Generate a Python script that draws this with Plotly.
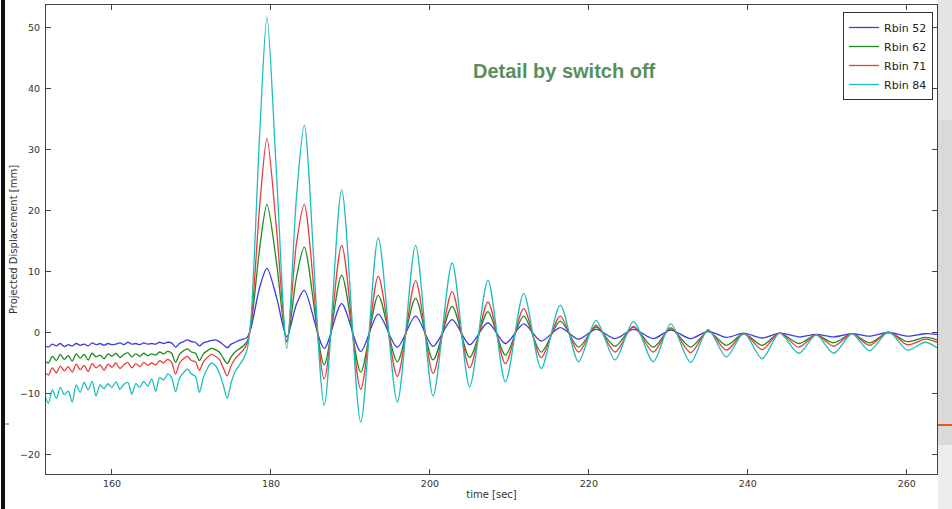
import plotly.graph_objects as go

# ---- data ----
t_base = [151.5 + 0.5 * i for i in range(51)]  # 151.5 .. 176.5 (sample times)
t_osc = [177.0, 177.5, 178.6, 179.5, 180.7, 182.0, 183.2, 184.2, 186.7, 188.9,
         191.3, 193.5, 195.9, 198.2, 200.4, 202.8, 205.0, 207.3, 209.5, 211.8,
         214.0, 216.4, 218.7, 220.9, 223.3, 225.6, 228.1, 230.3, 232.8, 235.0,
         237.3, 239.5, 241.8, 244.0, 246.4, 248.6, 250.8, 253.1, 255.3, 257.7,
         260.1, 262.3, 263.8]
time = t_base + t_osc

rbin52 = [-2.1, -2.4, -1.9, -2.2, -1.8, -2.3, -2.0, -2.2, -1.8, -2.1,
          -1.9, -2.2, -1.7, -2.0, -1.8, -2.1, -1.8, -2.0, -1.9, -1.7,
          -2.0, -1.6, -1.9, -1.8, -2.0, -1.7, -1.9, -1.8, -1.9, -1.6,
          -1.8, -1.6, -1.7, -2.4, -1.8, -1.5, -1.2, -1.5, -1.6, -2.2,
          -1.7, -1.5, -1.3, -1.2, -1.5, -2.0, -2.5, -1.9, -1.6, -1.3,
          -1.1,
          -0.8, 0.8, 7.5, 10.5, 5.8, -0.7, 4.6, 6.9, -2.6, 4.75,
          -3.1, 3.0, -2.4, 2.7, -2.25, 2.1, -2.0, 1.6, -1.8, 1.4,
          -1.4, 0.8, -1.1, 0.5, -1.0, 0.5, -1.0, 0.4, -1.0, 0.2,
          -0.8, -0.1, -0.9, -0.1, -0.7, -0.3, -0.7, -0.2, -0.6, 0.0,
          -0.6, -0.2, -0.3]

rbin62 = [-4.6, -5.0, -3.9, -4.6, -3.6, -4.4, -3.8, -4.7, -3.5, -4.2,
          -3.6, -4.5, -3.4, -4.0, -3.7, -4.3, -3.5, -3.9, -3.4, -4.1,
          -3.6, -3.3, -4.0, -3.5, -3.9, -3.4, -3.8, -3.5, -3.7, -3.2,
          -3.5, -3.1, -3.4, -4.9, -3.6, -3.0, -2.7, -3.2, -3.4, -4.6,
          -3.5, -3.0, -2.6, -2.8, -3.2, -4.2, -5.1, -4.0, -3.2, -2.7,
          -2.2,
          -1.5, 1.2, 14.0, 21.0, 11.5, -1.5, 9.0, 14.0, -5.3, 9.4,
          -6.5, 6.1, -4.8, 5.6, -4.5, 4.3, -4.1, 3.4, -3.7, 2.7,
          -3.2, 1.85, -2.4, 0.9, -2.25, 0.9, -2.4, 0.6, -2.4, 0.2,
          -2.1, -0.2, -2.1, -0.1, -1.8, -0.4, -1.7, -0.2, -1.7, 0.0,
          -1.5, -0.8, -1.2]

rbin71 = [-6.4, -7.0, -5.8, -6.6, -5.5, -6.3, -5.6, -6.5, -5.2, -6.1,
          -5.4, -6.4, -5.1, -5.8, -5.3, -6.2, -5.2, -5.7, -5.0, -5.9,
          -5.3, -4.9, -5.8, -5.1, -5.6, -4.9, -5.4, -5.0, -5.3, -4.6,
          -5.0, -4.4, -4.9, -6.8, -5.0, -4.3, -3.9, -4.6, -4.8, -6.2,
          -4.8, -4.1, -3.6, -3.9, -4.4, -5.8, -7.1, -5.4, -4.3, -3.6,
          -2.9,
          -1.8, 1.5, 21.0, 31.8, 17.0, -1.6, 14.5, 21.0, -7.6, 14.3,
          -9.3, 9.2, -7.2, 8.5, -6.7, 6.7, -5.8, 5.0, -5.1, 3.9,
          -4.1, 2.7, -3.2, 1.2, -3.2, 1.0, -3.2, 0.8, -3.3, 0.3,
          -2.9, -0.2, -2.8, -0.1, -2.4, -0.4, -2.25, -0.2, -2.1, 0.1,
          -2.0, -1.1, -1.6]

rbin84 = [-10.0, -11.6, -9.4, -10.8, -9.0, -10.2, -9.6, -11.4, -8.6, -9.8,
          -8.2, -9.4, -8.0, -10.4, -8.6, -9.2, -8.4, -9.0, -8.1, -9.3,
          -8.5, -8.2, -10.1, -8.4, -9.0, -8.0, -8.8, -7.6, -9.6, -7.4,
          -7.8, -6.8, -7.4, -9.7, -7.5, -6.6, -6.0, -6.8, -7.2, -9.8,
          -7.4, -5.9, -5.0, -5.4, -6.6, -8.6, -10.8, -8.2, -6.4, -5.4,
          -4.4,
          -2.8, 2.5, 33.0, 51.7, 26.0, -2.6, 22.0, 34.0, -11.9, 23.4,
          -14.7, 15.5, -11.4, 14.3, -10.4, 11.4, -8.9, 8.6, -8.1, 6.4,
          -5.9, 4.5, -4.8, 2.0, -4.5, 1.8, -4.8, 1.4, -4.9, 0.5,
          -4.0, -0.1, -4.3, -0.1, -3.4, -0.4, -3.4, -0.2, -3.0, 0.1,
          -2.9, -1.6, -2.5]

series_names = ["Rbin 52", "Rbin 62", "Rbin 71", "Rbin 84"]
series_values = [rbin52, rbin62, rbin71, rbin84]
series_colors = ["#3a3ae8", "#1f8a1f", "#ec3b3b", "#1fbcbc"]

x_ticks = [160, 180, 200, 220, 240, 260]
y_ticks = [-20, -10, 0, 10, 20, 30, 40, 50]

# ---- figure ----
fig = go.Figure()
for name, vals, col in zip(series_names, series_values, series_colors):
    fig.add_trace(go.Scatter(
        x=time, y=vals, name=name, mode="lines",
        line=dict(color=col, width=1.3, shape="spline", smoothing=0.8),
    ))

axis_common = dict(
    showline=True, linecolor="#444", linewidth=1, mirror="ticks",
    ticks="inside", ticklen=5, tickcolor="#444", tickwidth=1,
    showgrid=False, zeroline=False, automargin=False,
    tickfont=dict(family="DejaVu Sans", size=9.5, color="#333"),
)

fig.update_xaxes(range=[151.7, 263.8], tickvals=x_ticks, ticklabelstandoff=1,
                 title=dict(text="time [sec]", standoff=2,
                            font=dict(family="DejaVu Sans", size=10, color="#333")),
                 **axis_common)
fig.update_yaxes(range=[-23.2, 53.7], tickvals=y_ticks, ticklabelstandoff=3,
                 title=dict(text="Projected Displacement [mm]", standoff=0,
                            font=dict(family="DejaVu Sans", size=10, color="#333")),
                 **axis_common)

W, H = 952, 509
ml, mr, mt, mb = 46, 15, 5, 35
pw, ph = W - ml - mr, H - mt - mb

def px(x):
    return (x - ml) / pw

def py(y):
    return 1 - (y - mt) / ph

shapes = [
    # right decorative strip (slide background)
    dict(type="rect", xref="paper", yref="paper", x0=px(938), x1=px(W + 2), y0=py(H + 2), y1=py(-2),
         fillcolor="#d9d9d9", line=dict(width=0), layer="above"),
    dict(type="rect", xref="paper", yref="paper", x0=px(938), x1=px(W + 2), y0=py(120), y1=py(-2),
         fillcolor="#e4e4e4", line=dict(width=0), layer="above"),
    dict(type="rect", xref="paper", yref="paper", x0=px(938), x1=px(W + 2), y0=py(H + 2), y1=py(445),
         fillcolor="#ececec", line=dict(width=0), layer="above"),
    dict(type="line", xref="paper", yref="paper", x0=px(938), x1=px(W + 2), y0=py(425), y1=py(425),
         line=dict(color="#e8531f", width=2), layer="above"),
    # left black bar
    dict(type="rect", xref="paper", yref="paper", x0=px(1), x1=px(5), y0=py(H + 2), y1=py(-2),
         fillcolor="#111", line=dict(width=0)),
    dict(type="line", xref="paper", yref="paper", x0=px(5), x1=px(9), y0=py(424), y1=py(424),
         line=dict(color="#c0392b", width=1)),
]

fig.update_layout(
    width=W, height=H, autosize=False,
    margin=dict(l=ml, r=mr, t=mt, b=mb, pad=0),
    paper_bgcolor="white", plot_bgcolor="white",
    font=dict(family="DejaVu Sans", color="#333"),
    showlegend=True,
    legend=dict(x=px(933), y=py(12), xanchor="right", yanchor="top",
                bgcolor="white", bordercolor="#333", borderwidth=1,
                font=dict(family="DejaVu Sans", size=11, color="#222"),
                itemwidth=30, tracegroupgap=0),
    shapes=shapes,
    annotations=[dict(
        text="<b>Detail by switch off</b>", xref="paper", yref="paper",
        x=px(564), y=py(71), xanchor="center", yanchor="middle", showarrow=False,
        font=dict(family="Liberation Sans", size=20, color="#5a8f5c"),
    )],
)

fig.write_html("out.html", config={"displayModeBar": False},
               post_script="document.body.style.margin='0';document.body.style.overflow='hidden';")
